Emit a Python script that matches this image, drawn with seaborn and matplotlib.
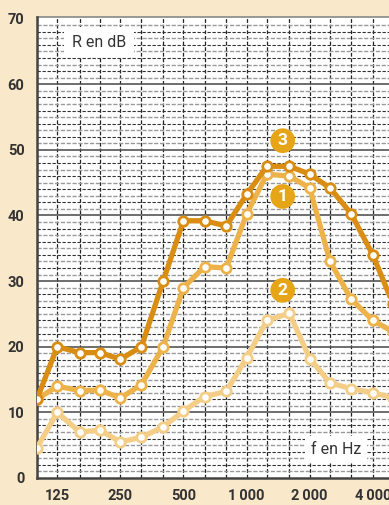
import numpy as np
import pandas as pd
import matplotlib
matplotlib.use('Agg')
import matplotlib.pyplot as plt
import seaborn as sns

# third-octave band centre frequencies (Hz)
freqs = [100, 125, 160, 200, 250, 315, 400, 500, 630, 800,
         1000, 1250, 1600, 2000, 2500, 3150, 4000, 5000]

# sound reduction index R (dB) for the three walls
r_wall1 = [12, 14, 13.3, 13.4, 12.2, 14.2, 20, 29, 32.2, 32,
           40.2, 46.3, 46, 44.2, 33, 27.3, 24, 22.3]
r_wall2 = [4.6, 10, 7, 7.3, 5.5, 6.2, 7.8, 10.2, 12.4, 13.2,
           18.3, 24, 25.1, 18.2, 14.5, 13.6, 13, 12.2]
r_wall3 = [12, 20, 19.1, 19.1, 18.1, 20, 30, 39.2, 39.2, 38.4,
           43.2, 47.5, 47.5, 46.3, 44.2, 40.3, 34, 26.5]

xtick_vals = [125, 250, 500, 1000, 2000, 4000]
xtick_labels = ['125', '250', '500', '1\u2009000', '2\u2009000', '4\u2009000']

df = pd.DataFrame({'f': freqs, 'w1': r_wall1, 'w2': r_wall2, 'w3': r_wall3})

bg = '#F9E8C9'
c1 = '#EDB34A'
c2 = '#F4CE86'
c3 = '#D98D12'
badge = '#E6A517'

sns.set_style('white')
plt.rcParams['font.family'] = ['Roboto', 'DejaVu Sans']

fig = plt.figure(figsize=(3.89, 5.05), dpi=100, facecolor=bg)
ax = fig.add_axes([0.095, 0.0535, 0.905, 0.9135])
ax.set_facecolor('white')
ax.set_xscale('log')
ax.set_xlim(100, 4780)
ax.set_ylim(0, 70.3)

# grid: every third-octave vertically, every dB horizontally
for f in freqs:
    ax.axvline(f, color='#222222', lw=0.9, ls=(0, (3, 1.5)), zorder=1)
for y in range(1, 70):
    if y % 10 == 0:
        ax.axhline(y, color='#555555', lw=1.2, zorder=1)
    elif y % 2:
        ax.axhline(y, color='#999999', lw=1.0, ls=(0, (3, 1.2)), zorder=1)
    else:
        ax.axhline(y, color='#333333', lw=0.8, ls=(0, (3, 1.5)), zorder=1)

line_kw = dict(marker='o', markerfacecolor='white', markersize=6.8,
               markeredgewidth=2, linewidth=3.8, ax=ax, legend=False)
sns.lineplot(data=df, x='f', y='w2', color=c2, markeredgecolor=c2, zorder=3, **line_kw)
sns.lineplot(data=df, x='f', y='w1', color=c1, markeredgecolor=c1, zorder=4, **line_kw)
sns.lineplot(data=df, x='f', y='w3', color=c3, markeredgecolor=c3, zorder=5, **line_kw)

# numbered badges
for num, yy in [('3', 51.4), ('1', 42.9), ('2', 28.6)]:
    ax.text(1487, yy, num, ha='center', va='center', color='white',
            fontsize=12.5, fontweight='bold', zorder=6,
            bbox=dict(boxstyle='circle,pad=0.28', fc=badge, ec='none'))

ax.text(198, 66.4, 'R en dB', ha='center', va='center', fontsize=11.5, color='#333333',
        zorder=6, bbox=dict(fc='white', ec='none', pad=5.5))
ax.text(2667, 4.34, 'f en Hz', ha='center', va='center', fontsize=11.5, color='#333333',
        zorder=6, bbox=dict(fc='white', ec='none', pad=4.5))

ax.set_xticks(xtick_vals)
ax.set_xticklabels(xtick_labels)
ax.xaxis.set_minor_locator(matplotlib.ticker.NullLocator())
ax.set_yticks(range(0, 71, 10))
ax.tick_params(axis='both', length=0, labelsize=10.5, colors='#333333')
ax.tick_params(axis='y', pad=9)
ax.tick_params(axis='x', pad=8)
for lab in ax.get_xticklabels() + ax.get_yticklabels():
    lab.set_fontweight('bold')
ax.set_xlabel('')
ax.set_ylabel('')

for side in ['top', 'right']:
    ax.spines[side].set_visible(False)
ax.axhline(70.3, color='#888888', lw=1.2, zorder=2, clip_on=False)
ax.spines['left'].set_color('#444444')
ax.spines['left'].set_linewidth(1.8)
ax.spines['bottom'].set_color('#444444')
ax.spines['bottom'].set_linewidth(1.8)

fig.savefig('out.png', dpi=100, facecolor=bg)
